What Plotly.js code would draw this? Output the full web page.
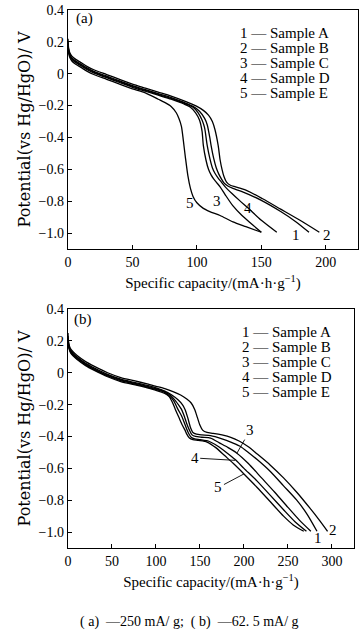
<!DOCTYPE html>
<html>
<head>
<meta charset="utf-8">
<script src="https://cdn.plot.ly/plotly-3.0.1.min.js"></script>
<style>html,body{margin:0;padding:0;background:#fff;}#chart{width:363px;height:632px;}</style>
</head>
<body>
<div id="chart"></div>
<script>
// ---------- Data: panel (a) -250 mA/g ----------
const a1x = [0, 0.5, 1.5, 3, 6, 10, 15, 20, 30, 40, 50, 60, 70, 80, 90, 97, 102, 106, 108, 110, 111, 113, 115, 117, 119, 121, 124, 128, 135, 150, 165, 177, 187];
const a1y = [0.20, 0.15, 0.12, 0.10, 0.08, 0.06, 0.035, 0.015, -0.015, -0.045, -0.075, -0.10, -0.125, -0.15, -0.18, -0.205, -0.235, -0.28, -0.32, -0.40, -0.45, -0.53, -0.59, -0.63, -0.66, -0.685, -0.705, -0.72, -0.74, -0.795, -0.865, -0.93, -0.995];
const a2x = [0, 0.5, 1.5, 3, 6, 10, 15, 20, 30, 40, 50, 60, 70, 80, 90, 100, 105, 109, 112, 114, 116.5, 118, 119.5, 121, 123, 126, 130, 138, 151, 165, 180, 195];
const a2y = [0.22, 0.16, 0.13, 0.11, 0.09, 0.07, 0.045, 0.025, -0.005, -0.035, -0.065, -0.09, -0.115, -0.14, -0.17, -0.205, -0.23, -0.26, -0.30, -0.35, -0.45, -0.54, -0.60, -0.645, -0.68, -0.70, -0.71, -0.73, -0.785, -0.85, -0.92, -0.995];
const a3x = [0, 0.5, 1.5, 3, 6, 10, 15, 20, 30, 40, 50, 60, 70, 80, 90, 95, 99, 102, 104, 105, 107, 109, 111, 113, 115, 118, 122, 128, 135, 142, 150];
const a3y = [0.18, 0.14, 0.11, 0.09, 0.07, 0.05, 0.025, 0.005, -0.025, -0.055, -0.085, -0.11, -0.135, -0.16, -0.19, -0.21, -0.245, -0.29, -0.36, -0.45, -0.54, -0.60, -0.635, -0.66, -0.68, -0.71, -0.76, -0.83, -0.89, -0.94, -0.995];
const a4x = [0, 0.5, 1.5, 3, 6, 10, 15, 20, 30, 40, 50, 60, 70, 80, 90, 97, 101, 104, 106, 108, 110, 112, 114, 116.5, 119, 122, 127, 133, 140, 150, 162];
const a4y = [0.19, 0.145, 0.115, 0.095, 0.075, 0.055, 0.03, 0.01, -0.02, -0.05, -0.08, -0.105, -0.13, -0.155, -0.185, -0.21, -0.245, -0.29, -0.34, -0.45, -0.53, -0.59, -0.625, -0.655, -0.68, -0.71, -0.75, -0.795, -0.845, -0.92, -0.995];
const a5x = [0, 0.5, 1.5, 3, 6, 10, 15, 20, 30, 40, 50, 60, 70, 75, 80, 84, 86, 88, 89.5, 91, 93, 95, 97, 100, 105, 110, 118, 128, 138, 150];
const a5y = [0.17, 0.13, 0.10, 0.08, 0.06, 0.04, 0.015, -0.005, -0.035, -0.065, -0.095, -0.12, -0.16, -0.18, -0.205, -0.245, -0.28, -0.33, -0.42, -0.52, -0.64, -0.72, -0.77, -0.81, -0.845, -0.865, -0.89, -0.93, -0.96, -0.995];

// ---------- Data: panel (b) -62.5 mA/g ----------
const b1x = [0, 0.5, 1.5, 3, 6, 10, 20, 30, 45, 60, 75, 90, 100, 110, 118, 125, 130, 133, 136, 139, 142, 146, 152, 162, 175, 185, 195, 205, 215, 230, 245, 260, 272, 283];
const b1y = [0.23, 0.19, 0.16, 0.14, 0.12, 0.10, 0.06, 0.03, -0.01, -0.04, -0.06, -0.08, -0.095, -0.115, -0.14, -0.17, -0.20, -0.23, -0.28, -0.34, -0.375, -0.385, -0.39, -0.395, -0.415, -0.435, -0.46, -0.50, -0.545, -0.62, -0.71, -0.80, -0.89, -0.995];
const b2x = [0, 0.5, 1.5, 3, 6, 10, 20, 30, 45, 60, 75, 90, 100, 110, 120, 128, 135, 140, 144, 147, 150, 153, 158, 165, 175, 185, 195, 205, 215, 230, 245, 260, 275, 285, 295];
const b2y = [0.25, 0.20, 0.17, 0.15, 0.13, 0.11, 0.07, 0.04, 0.0, -0.03, -0.05, -0.07, -0.085, -0.10, -0.12, -0.14, -0.165, -0.19, -0.23, -0.28, -0.33, -0.36, -0.375, -0.38, -0.39, -0.405, -0.43, -0.465, -0.51, -0.58, -0.66, -0.75, -0.85, -0.92, -0.995];
const b3x = [0, 0.5, 1.5, 3, 6, 10, 20, 30, 45, 60, 75, 90, 100, 110, 117, 122, 126, 129, 132, 135, 138, 141, 145, 152, 162, 172, 182, 192, 205, 220, 235, 250, 263, 276];
const b3y = [0.22, 0.18, 0.155, 0.135, 0.115, 0.095, 0.055, 0.025, -0.015, -0.045, -0.065, -0.085, -0.10, -0.12, -0.145, -0.175, -0.205, -0.23, -0.27, -0.32, -0.36, -0.39, -0.40, -0.405, -0.41, -0.44, -0.47, -0.505, -0.57, -0.66, -0.75, -0.845, -0.925, -0.995];
const b4x = [0, 0.5, 1.5, 3, 6, 10, 20, 30, 45, 60, 75, 90, 100, 110, 115, 120, 125, 129, 132, 135, 137, 140, 144, 150, 160, 170, 180, 190, 200, 215, 230, 245, 258, 271];
const b4y = [0.21, 0.175, 0.15, 0.13, 0.11, 0.09, 0.05, 0.02, -0.02, -0.05, -0.07, -0.09, -0.105, -0.125, -0.145, -0.175, -0.23, -0.27, -0.31, -0.355, -0.38, -0.405, -0.415, -0.42, -0.43, -0.46, -0.50, -0.545, -0.60, -0.68, -0.77, -0.86, -0.935, -0.995];
const b5x = [0, 0.5, 1.5, 3, 6, 10, 20, 30, 45, 60, 75, 90, 100, 110, 115, 119, 122, 126, 130, 133, 135, 138, 142, 148, 158, 168, 178, 188, 200, 215, 230, 245, 256, 268];
const b5y = [0.20, 0.17, 0.145, 0.125, 0.105, 0.085, 0.045, 0.015, -0.025, -0.055, -0.075, -0.095, -0.11, -0.13, -0.15, -0.19, -0.23, -0.28, -0.33, -0.36, -0.385, -0.41, -0.42, -0.425, -0.435, -0.47, -0.52, -0.57, -0.635, -0.72, -0.81, -0.90, -0.955, -0.995];

// ---------- Labels ----------
const sampleNames = ["1 — Sample A", "2 — Sample B", "3 — Sample C", "4 — Sample D", "5 — Sample E"];
const yTickVals = [-1.0, -0.8, -0.6, -0.4, -0.2, 0, 0.2, 0.4];
const yTickText = ["−1.0", "−0.8", "−0.6", "−0.4", "−0.2", "0", "0.2", "0.4"];
const xTickValsA = [0, 50, 100, 150, 200];
const xTickValsB = [0, 50, 100, 150, 200, 250, 300];
const xTitle = "Specific capacity/(mA·h·g<sup>−1</sup>)";
const yTitle = "Potential(vs Hg/HgO)/ V";
const caption = "( a)  —250 mA/ g;  ( b)  —62. 5 mA/ g";

// ---------- Build ----------
const serif = "Liberation Serif, Times New Roman, serif";
const lineStyle = {color: "#000", width: 1.3, shape: "spline", smoothing: 0.7};
function tr(x, y, xa, ya) {
  return {x: x, y: y, xaxis: xa, yaxis: ya, mode: "lines", line: lineStyle, showlegend: false, hoverinfo: "skip"};
}
const data = [
  tr(a1x, a1y, "x", "y"), tr(a2x, a2y, "x", "y"), tr(a3x, a3y, "x", "y"), tr(a4x, a4y, "x", "y"), tr(a5x, a5y, "x", "y"),
  tr(b1x, b1y, "x2", "y2"), tr(b2x, b2y, "x2", "y2"), tr(b3x, b3y, "x2", "y2"), tr(b4x, b4y, "x2", "y2"), tr(b5x, b5y, "x2", "y2")
];

const tickFont = {family: serif, size: 14, color: "#000"};
function xaxis(range, tv, dom) {
  return {range: range, domain: dom, tickvals: tv, ticks: "inside", ticklen: 4, tickwidth: 1, tickcolor: "#000",
    showline: true, linecolor: "#000", linewidth: 1.3, mirror: true, showgrid: false, zeroline: false,
    tickfont: tickFont, title: {text: xTitle, font: {family: serif, size: 15, color: "#000"}, standoff: 8}};
}
function yaxis(dom, anchor) {
  return {range: [-1.1, 0.4], domain: dom, anchor: anchor, tickvals: yTickVals, ticktext: yTickText, ticks: "inside", ticklen: 4,
    tickwidth: 1, tickcolor: "#000", showline: true, linecolor: "#000", linewidth: 1.3, mirror: true, showgrid: false,
    zeroline: false, tickfont: tickFont, title: {text: yTitle, font: {family: "DejaVu Serif, serif", size: 16, color: "#000"}, standoff: 4}};
}

const annotations = [];
const legFont = {family: serif, size: 15, color: "#000"};
const legYa = [33, 48, 63, 78, 93];
const legYb = [332, 347, 362, 377, 392];
sampleNames.forEach((s, i) => {
  annotations.push({xref: "paper", yref: "paper", x: (238 - 68) / 290, y: (548 - legYa[i]) / 538, text: s, showarrow: false,
    xanchor: "left", yanchor: "middle", font: legFont});
  annotations.push({xref: "paper", yref: "paper", x: (240 - 68) / 290, y: (548 - legYb[i]) / 538, text: s, showarrow: false,
    xanchor: "left", yanchor: "middle", font: legFont});
});
annotations.push({xref: "x", yref: "y", x: 5, y: 0.345, text: "(a)", showarrow: false, xanchor: "left", font: legFont});
annotations.push({xref: "x2", yref: "y2", x: 5, y: 0.335, text: "(b)", showarrow: false, xanchor: "left", font: legFont});
// curve labels (a)
[[95, -0.81, "5"], [115.8, -0.80, "3"], [140, -0.845, "4"], [177, -1.01, "1"], [201, -1.01, "2"]].forEach(p => {
  annotations.push({xref: "x", yref: "y", x: p[0], y: p[1], text: p[2], showarrow: false, font: legFont});
});
// curve labels (b)
[[284.5, -1.04, "1"], [301, -0.99, "2"]].forEach(p => {
  annotations.push({xref: "x2", yref: "y2", x: p[0], y: p[1], text: p[2], showarrow: false, font: legFont});
});
[[192, -0.505, 207, -0.36, "3"], [190, -0.55, 144, -0.535, "4"], [200, -0.635, 171, -0.72, "5"]].forEach(p => {
  annotations.push({xref: "x2", yref: "y2", x: p[0], y: p[1], axref: "x2", ayref: "y2", ax: p[2], ay: p[3], text: p[4],
    showarrow: true, arrowhead: 0, arrowwidth: 0.9, arrowcolor: "#000", font: legFont, standoff: 0});
});
annotations.push({xref: "paper", yref: "paper", x: (189 - 68) / 290, y: (548 - 622) / 538, text: caption, showarrow: false,
  xanchor: "center", yanchor: "middle", font: {family: serif, size: 14, color: "#000"}});

const layout = {
  width: 363, height: 632,
  margin: {l: 68, r: 5, t: 10, b: 84},
  paper_bgcolor: "#fff", plot_bgcolor: "#fff",
  xaxis: xaxis([0, 225], xTickValsA, [0, 1]),
  yaxis: yaxis([0.5558, 1], "x"),
  xaxis2: xaxis([0, 325], xTickValsB, [0, 0.986]),
  yaxis2: yaxis([0, 0.4442], "x2"),
  annotations: annotations,
  showlegend: false
};
layout.xaxis.anchor = "y";
layout.xaxis2.anchor = "y2";

Plotly.newPlot("chart", data, layout, {staticPlot: true, displayModeBar: false});
</script>
</body>
</html>
